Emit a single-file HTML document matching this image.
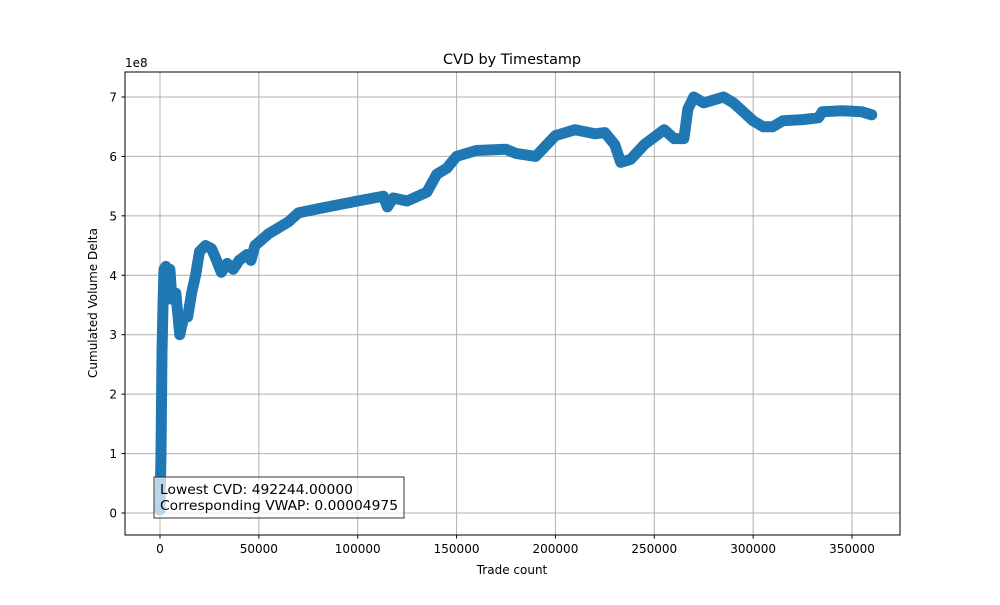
<!DOCTYPE html>
<html><head><meta charset="utf-8"><style>
body{margin:0;background:#fff;font-family:"Liberation Sans","DejaVu Sans",sans-serif}
svg text{font-family:"DejaVu Sans","Liberation Sans",sans-serif}
</style></head><body>
<svg id="chart" width="1000" height="600">
<rect width="1000" height="600" fill="#fff"/>
<g id="grid"></g>
<g id="series"></g>
<rect x="125" y="72" width="775" height="463" fill="none" stroke="#000" stroke-width="1"/>
<g id="ticks" font-size="12"></g>
<text x="512" y="64" text-anchor="middle" font-size="14.4">CVD by Timestamp</text>
<text x="512" y="574" text-anchor="middle" font-size="12">Trade count</text>
<text transform="translate(97,303) rotate(-90)" text-anchor="middle" font-size="12">Cumulated Volume Delta</text>
<text x="125" y="67" font-size="12">1e8</text>
<g>
<rect x="154" y="477" width="250" height="41" fill="#fff" fill-opacity="0.7" stroke="#333" stroke-width="1"/>
<text x="160" y="494" font-size="13.3" textLength="193" lengthAdjust="spacingAndGlyphs">Lowest CVD: 492244.00000</text>
<text x="160" y="510" font-size="13.3" textLength="238" lengthAdjust="spacingAndGlyphs">Corresponding VWAP: 0.00004975</text>
</g>
</svg>
<script>
const xs=[0,500,1000,1500,2000,3000,4000,5000,6000,8000,10000,12000,14000,16000,18000,20000,23000,26000,28000,31000,34000,37000,40000,44000,46000,48000,55000,65000,70000,80000,100000,113000,115000,118000,125000,135000,140000,145000,150000,160000,175000,180000,190000,200000,210000,220000,225000,230000,233000,238000,245000,255000,260000,265000,267000,270000,275000,280000,285000,290000,295000,300000,305000,310000,315000,325000,333000,335000,345000,355000,360000];
const cvd=[0.05,1.0,2.7,3.5,4.1,4.15,3.6,4.1,3.6,3.7,3.0,3.3,3.3,3.7,4.0,4.4,4.5,4.45,4.3,4.05,4.2,4.1,4.25,4.35,4.25,4.5,4.7,4.9,5.05,5.12,5.25,5.33,5.15,5.3,5.25,5.4,5.7,5.8,6.0,6.1,6.12,6.05,6.0,6.35,6.45,6.38,6.4,6.2,5.9,5.95,6.2,6.45,6.3,6.3,6.8,7.0,6.9,6.95,7.0,6.9,6.75,6.6,6.5,6.5,6.6,6.62,6.65,6.75,6.77,6.75,6.7];
const xTicks=[0,50000,100000,150000,200000,250000,300000,350000];
const yTicks=[0,1,2,3,4,5,6,7];
const X=v=>160+v*(692/350000);
const Y=v=>513-v*59.43;
const NS='http://www.w3.org/2000/svg';
const grid=document.getElementById('grid'),ticks=document.getElementById('ticks'),series=document.getElementById('series');
function mk(tag,attrs,parent){const e=document.createElementNS(NS,tag);for(const k in attrs)e.setAttribute(k,attrs[k]);parent.appendChild(e);return e;}
xTicks.forEach(t=>{const x=X(t);
 const g=mk('line',{x1:x,x2:x,y1:72,y2:535,stroke:'#b0b0b0','stroke-width':1},grid);
 
 
 mk('line',{x1:x,x2:x,y1:535,y2:538.5,stroke:'#000'},ticks);
 const l=mk('text',{x:x,y:553,'text-anchor':'middle'},ticks);l.textContent=t;
 
 
});
yTicks.forEach(t=>{const y=Y(t);
 const g=mk('line',{x1:125,x2:900,y1:y,y2:y,stroke:'#b0b0b0','stroke-width':1},grid);
 
 
 mk('line',{x1:121.5,x2:125,y1:y,y2:y,stroke:'#000'},ticks);
 const l=mk('text',{x:117,y:y+4.5,'text-anchor':'end'},ticks);l.textContent=t;
 
 
});
const pts=xs.map((v,i)=>X(v).toFixed(1)+','+Y(cvd[i]).toFixed(1)).join(' ');
const pl=mk('polyline',{points:pts,fill:'none',stroke:'#1f77b4','stroke-width':11,'stroke-linejoin':'round','stroke-linecap':'round'},series);


</script>
</body></html>
